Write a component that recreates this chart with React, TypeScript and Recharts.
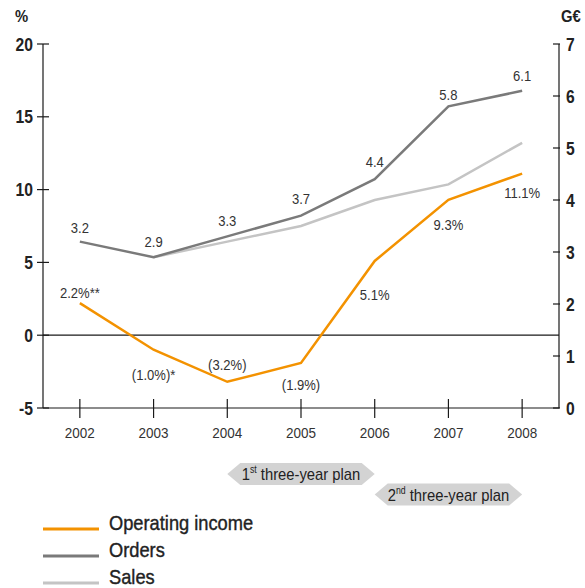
import React from 'react';
import { ComposedChart, Line, XAxis, YAxis, ReferenceLine, ReferenceArea, LabelList } from 'recharts';

const years = ['2002', '2003', '2004', '2005', '2006', '2007', '2008'];
const operatingIncome = [2.2, -1.0, -3.2, -1.9, 5.1, 9.3, 11.1];
const operatingIncomeLabels = ['2.2%**', '(1.0%)*', '(3.2%)', '(1.9%)', '5.1%', '9.3%', '11.1%'];
const orders = [3.2, 2.9, 3.3, 3.7, 4.4, 5.8, 6.1];
const orderLabels = ['3.2', '2.9', '3.3', '3.7', '4.4', '5.8', '6.1'];
const sales: (number | null)[] = [null, 2.9, 3.2, 3.5, 4.0, 4.3, 5.1];
const leftTicks = [-5, 0, 5, 10, 15, 20];
const rightTicks = [0, 1, 2, 3, 4, 5, 6, 7];
const plans = [
  { from: '2004', to: '2006', num: '1', sup: 'st', text: ' three-year plan' },
  { from: '2006', to: '2008', num: '2', sup: 'nd', text: ' three-year plan' },
];
const seriesNames = ['Operating income', 'Orders', 'Sales'];
const leftUnit = '%';
const rightUnit = 'G€';

const COLORS = { op: '#F39200', orders: '#7a7a7a', sales: '#c4c4c4' };
const FONT = '"Liberation Sans", Arial, sans-serif';
const AXIS = '#1a1a1a';
const SX = 0.87;

const data = years.map((y, i) => ({
  year: y,
  op: operatingIncome[i],
  orders: orders[i],
  sales: sales[i],
}));

// label vertical placement (center offset from point), styling only
const opLabelDy = [-11, 25, -17, 22, 34, 25, 19];
const ordersLabelDy = [-14, -16, -16, -17, -18, -12, -15];

const CText = (props: any) => {
  const { x, y, anchor = 'middle', size = 15, weight = 'normal', fill = '#333', stroke, children } = props;
  return (
    <text
      transform={`translate(${x},${y}) scale(${SX},1)`}
      textAnchor={anchor}
      fontFamily={FONT}
      fontSize={size}
      fontWeight={weight}
      fill={fill}
      stroke={stroke ? fill : undefined}
      strokeWidth={stroke || undefined}
    >
      {children}
    </text>
  );
};

const LeftTick = (props: any) => {
  const { x, y, payload } = props;
  return (
    <g>
      <line x1={x - 6} x2={x + 6} y1={y} y2={y} stroke={AXIS} strokeWidth={1.2} />
      <CText x={x - 10} y={y + 6.5} anchor="end" size={18} weight="bold" fill="#222">
        {payload.value}
      </CText>
    </g>
  );
};

const RightTick = (props: any) => {
  const { x, y, payload } = props;
  return (
    <g>
      <line x1={x - 6} x2={x + 1} y1={y} y2={y} stroke={AXIS} strokeWidth={1.2} />
      <CText x={x + 7} y={y + 6.5} anchor="start" size={18} weight="bold" fill="#222">
        {payload.value}
      </CText>
    </g>
  );
};

const BottomTick = (props: any) => {
  const { x, y, payload } = props;
  return (
    <g>
      <line x1={x} x2={x} y1={y - 9} y2={y + 10} stroke={AXIS} strokeWidth={1.2} />
      <CText x={x} y={y + 29.5} size={15.5} fill="#333">
        {payload.value}
      </CText>
    </g>
  );
};

const OpLabel = (props: any) => {
  const { x, y, index } = props;
  return (
    <CText x={x} y={y + opLabelDy[index] + 5.4} size={15}>
      {operatingIncomeLabels[index]}
    </CText>
  );
};

const OrdersLabel = (props: any) => {
  const { x, y, index } = props;
  return (
    <CText x={x} y={y + ordersLabelDy[index] + 5.4} size={15}>
      {orderLabels[index]}
    </CText>
  );
};

const PlanArrow = (props: any) => {
  const { x, y, width, height, plan, row } = props;
  const lx = x + width / 6;
  const rx = x + (width * 5) / 6;
  const top = y + height + 55 + row * 20.5;
  const bot = top + 22;
  const mid = (top + bot) / 2;
  const n = 13;
  const pts = `${lx},${mid} ${lx + n},${top} ${rx - n},${top} ${rx},${mid} ${rx - n},${bot} ${lx + n},${bot}`;
  return (
    <g>
      <polygon points={pts} fill="#d3d3d3" />
      <CText x={(lx + rx) / 2} y={mid + 6} size={17} fill="#222">
        {plan.num}
        <tspan fontSize={10} dy={-7}>{plan.sup}</tspan>
        <tspan dy={7}>{plan.text}</tspan>
      </CText>
    </g>
  );
};

export default function App() {
  const legendColors = [COLORS.op, COLORS.orders, COLORS.sales];
  return (
    <div style={{ position: 'absolute', left: 0, top: 0, width: 585, height: 588, background: '#fff' }}>
      <ComposedChart
        width={585}
        height={588}
        data={data}
        margin={{ top: 44, right: 0, bottom: 150, left: 0 }}
      >
        <XAxis
          dataKey="year"
          xAxisId="x"
          scale="band"
          height={30}
          tickSize={0}
          tickMargin={0}
          tick={<BottomTick />}
          axisLine={{ stroke: AXIS, strokeWidth: 1.2 }}
          tickLine={false}
          interval={0}
        />
        <YAxis
          yAxisId="left"
          orientation="left"
          width={43}
          domain={[-5, 20]}
          ticks={leftTicks}
          tickSize={0}
          tickMargin={0}
          tick={<LeftTick />}
          tickLine={false}
          axisLine={{ stroke: AXIS, strokeWidth: 1.2 }}
          interval={0}
        />
        <YAxis
          yAxisId="right"
          orientation="right"
          width={26}
          domain={[0, 7]}
          ticks={rightTicks}
          tickSize={0}
          tickMargin={0}
          tick={<RightTick />}
          tickLine={false}
          axisLine={{ stroke: AXIS, strokeWidth: 1.2 }}
          interval={0}
        />
        <ReferenceLine yAxisId="left" xAxisId="x" y={0} stroke={AXIS} strokeWidth={1.2} />
        {plans.map((p, i) => (
          <ReferenceArea
            key={i}
            xAxisId="x"
            yAxisId="left"
            x1={p.from}
            x2={p.to}
            ifOverflow="visible"
            shape={(sp: any) => <PlanArrow {...sp} plan={p} row={i} />}
          />
        ))}
        <Line
          xAxisId="x"
          yAxisId="right"
          dataKey="sales"
          stroke={COLORS.sales}
          strokeWidth={2.5}
          dot={false}
          isAnimationActive={false}
        />
        <Line
          xAxisId="x"
          yAxisId="right"
          dataKey="orders"
          stroke={COLORS.orders}
          strokeWidth={2.5}
          dot={false}
          isAnimationActive={false}
        >
          <LabelList dataKey="orders" content={<OrdersLabel />} />
        </Line>
        <Line
          xAxisId="x"
          yAxisId="left"
          dataKey="op"
          stroke={COLORS.op}
          strokeWidth={2.5}
          dot={false}
          isAnimationActive={false}
        >
          <LabelList dataKey="op" content={<OpLabel />} />
        </Line>
      </ComposedChart>
      <svg width={585} height={588} style={{ position: 'absolute', left: 0, top: 0, pointerEvents: 'none' }}>
        <CText x={15} y={22} anchor="start" size={17} weight="bold" fill="#222">{leftUnit}</CText>
        <CText x={561} y={22} anchor="start" size={17} weight="bold" fill="#222">{rightUnit}</CText>
        {seriesNames.map((name, i) => (
          <g key={name}>
            <line x1={43} x2={99} y1={529 + i * 27} y2={529 + i * 27} stroke={legendColors[i]} strokeWidth={3} />
            <CText x={109} y={530 + i * 27.2} anchor="start" size={21} fill="#222" stroke={0.4}>{name}</CText>
          </g>
        ))}
      </svg>
    </div>
  );
}
